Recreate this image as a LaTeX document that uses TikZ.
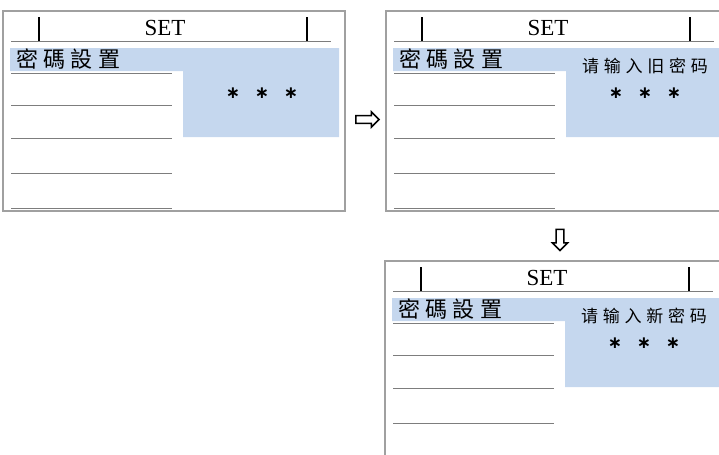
\documentclass[tikz,border=0pt]{standalone}
\usepackage{fontspec}
\setmainfont{Liberation Serif}
\newfontfamily\cjktc[LetterSpace=24]{Noto Sans CJK TC}
\newfontfamily\cjksc[LetterSpace=28]{Noto Sans CJK SC}
\newfontfamily\symfont{DejaVu Sans}
\usetikzlibrary{shapes.arrows}
\definecolor{panelblue}{RGB}{197,215,238}
\definecolor{framegray}{RGB}{160,160,160}
\definecolor{rulegray}{RGB}{125,125,125}
\tikzset{
    frame/.style={draw=framegray, line width=0.6pt},
    rule/.style={draw=rulegray, line width=0.5pt},
    tick/.style={draw=black, line width=0.7pt},
    star/.style={font=\fontsize{8.5pt}{10pt}\symfont\bfseries},
    hint/.style={single arrow, draw, line width=0.75pt, fill=white, inner xsep=0pt, inner ysep=1.6pt, single arrow head extend=1.8pt}
}
\def\Screen(#1) at (#2, #3) heading #4; {
    \begin{scope}[shift={(#2,#3)}]
        \draw[frame] (3, 11) rectangle (345, 211);
        \fill[panelblue] (10, 48) -| (339, 137) -| (183, 71) -| (10, 48) -- cycle;
        \draw[rule] (11, 41) -- (331, 41);
        \draw[tick] (39, 17) -- (39, 41) (307, 17) -- (307, 41);
        \foreach \y in {73, 105, 138, 173, 208}
            \draw[rule] (11, \y) -- (172, \y);
        \node (#1-set) at (165, 28) {\fontsize{11.5pt}{13pt}\selectfont SET};
        \node[anchor=west, inner sep=0pt] (#1-title) at (16, 59) {\fontsize{11pt}{12pt}\cjktc 密碼設置};
        \node (#1-head) at (262, 66) {\fontsize{8.5pt}{10pt}\cjksc #4};
        \foreach \x [count=\i] in {233, 262, 291}
            \node[star] (#1-ast\i) at (\x, 93) {∗};
    \end{scope}
}

\begin{document}
\begin{tikzpicture}[x=0.5pt, y=-0.5pt]
    \useasboundingbox (0, 0) rectangle (719, 455);
    \clip (0, 0) rectangle (719, 455);
    \Screen(old) at (0, 0) heading {}; % first screen
    \Screen(ask) at (383, 0) heading {请输入旧密码};
    \Screen(new) at (382, 250) heading {请输入新密码};
    \node[hint, minimum height=11.5pt] (next) at (365.5, 119.5) {};
    \node[hint, rotate=-90, minimum height=10.5pt] (down) at (560, 238) {};
\end{tikzpicture}
\end{document}
